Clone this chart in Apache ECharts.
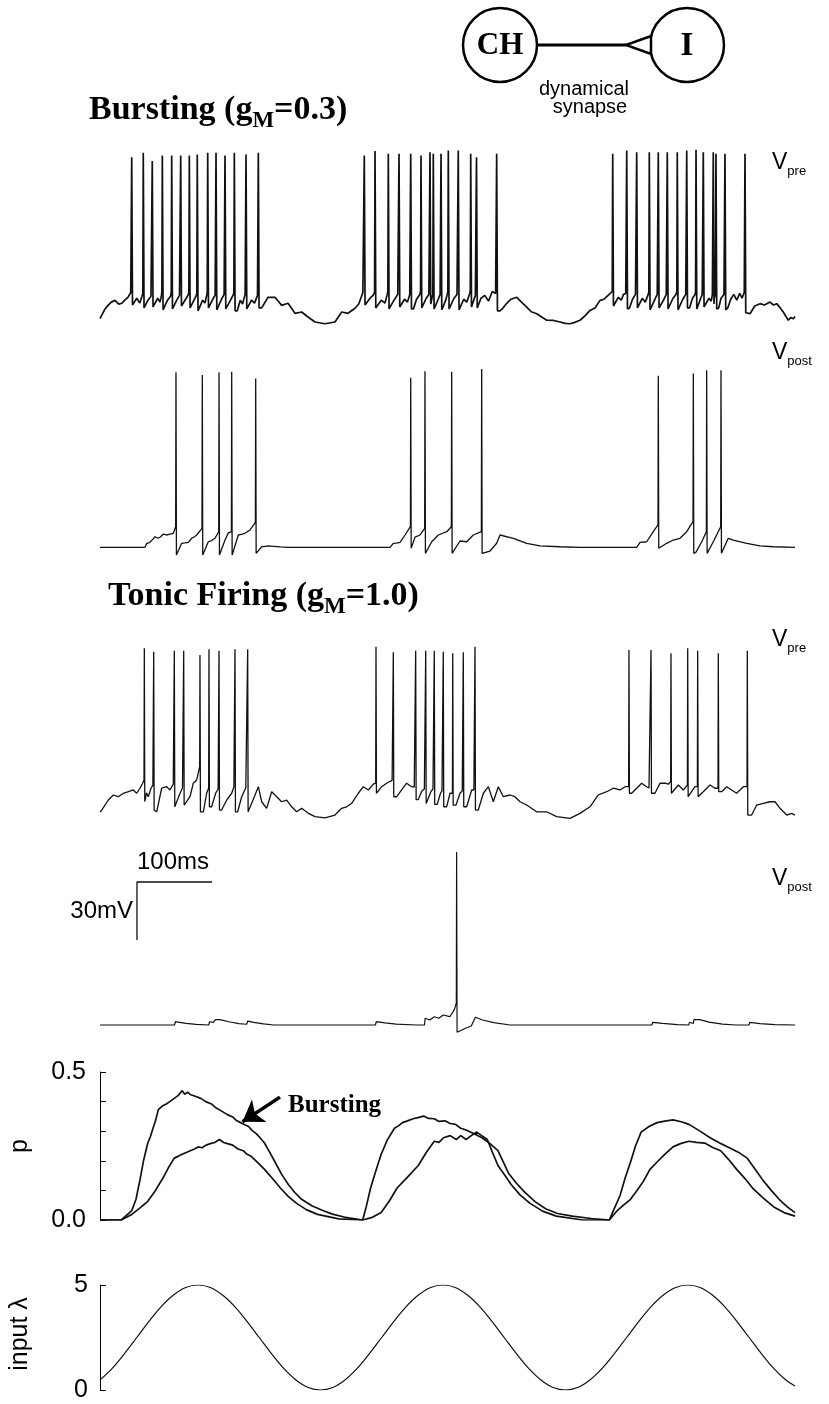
<!DOCTYPE html>
<html>
<head>
<meta charset="utf-8">
<script src="https://cdn.jsdelivr.net/npm/echarts@6/dist/echarts.min.js"></script>
<style>
  html, body { margin: 0; padding: 0; background: #fff; }
  #main { width: 829px; height: 1404px; }
</style>
</head>
<body>
<div id="main"></div>
<script>
// time in ms, voltage in mV (0.75 px/ms, 1.93 px/mV)
const T_MAX = 926.67;

// --- bursting, presynaptic: subthreshold trace [t, V] and spikes [t, Vbefore, Vpeak, Vafter]
const vpreBurstBase = [
  [0, -67.5], [2.3, -66.7], [6, -63], [10.7, -60.7], [15, -59], [20, -58.1], [25, -60], [29.3, -59.6], [33, -58], [37.3, -56.5], [41, -54],
  [45, -61.5], [49, -57], [53, -59.5], [56, -56],
  [61, -62], [64, -58], [68, -56],
  [73, -61], [77, -57], [80, -59], [82, -55.5],
  [86, -63], [90, -58], [94, -56],
  [99, -62], [103, -57.5], [106, -55.5],
  [111, -61.5], [115, -57], [118, -55],
  [122, -62.5], [126, -57.5], [128.5, -55.5],
  [133, -63], [137, -58], [140, -59.5], [142.5, -55],
  [147, -62.5], [151, -57], [153.5, -55.5],
  [158, -63], [162, -57.5], [165.5, -55],
  [170, -62.5], [174, -58], [178, -55],
  [183, -63.5], [187, -58], [190, -60], [193.5, -55],
  [198, -63], [202, -58], [206, -59.5], [210, -55.5],
  [215.6, -62], [224, -56.5], [233.3, -56.5], [242.3, -60.7], [250.7, -59.6], [260, -64.8], [268.9, -64.1], [277.3, -66.7],
  [286.7, -69.3], [300, -70.2], [313.3, -69.3], [322.3, -64.1], [330.7, -64.8], [340, -62.2], [345, -60], [350.5, -54],
  [356, -61], [360, -57], [364, -55.5],
  [370, -62.5], [375, -58], [380, -59.5], [383, -55],
  [388, -62.5], [392, -58], [397, -55],
  [402, -62], [406, -57.5], [410, -59], [413, -55],
  [418, -62.5], [422, -57.5], [426.5, -55],
  [431, -62], [435, -57], [438.5, -55],
  [442, -58],
  [447, -62], [451, -57.5], [453.5, -55],
  [458, -63], [461, -58], [463, -55],
  [468, -62.5], [472, -57], [476, -55],
  [481, -63], [485, -57.5], [489, -59], [493, -54.5],
  [497, -61], [500.5, -55.5],
  [505, -62], [508, -57], [513, -55.5], [518, -58.5], [523, -53.5], [527.5, -54.5],
  [533.3, -63.5], [537, -62.2], [542.3, -59.6], [548, -57.5], [555.6, -56.5], [562, -59], [568.9, -61.6], [575, -64],
  [582.3, -65], [590, -67], [595.6, -68.4], [605, -68.5], [613.3, -69.3], [620, -70], [626.7, -70.2], [633, -69.5],
  [640, -68.4], [647, -66], [653.3, -63.3], [660, -62], [666.7, -58.1], [672, -57.5], [676, -56], [680, -54.6],
  [687, -61.5], [691, -56.5], [695, -58], [698, -55], [701, -54.5],
  [706, -62], [710, -57.5], [714, -55],
  [719, -62.5], [723, -57], [727, -59], [731, -55],
  [736, -62], [740, -57.5], [743, -55],
  [748, -62.5], [752, -57.5], [755, -55],
  [760, -62], [764, -57], [768, -55],
  [773, -62.5], [777, -57.5], [781, -55],
  [786, -62], [790, -57], [793.5, -55],
  [798, -61.5], [801, -57], [803, -55],
  [808, -62], [812, -57], [815, -58.5], [816.5, -55],
  [819, -57], [820.5, -55],
  [825, -62], [828, -57], [832, -55],
  [837, -62], [841, -57.5], [845, -55], [849, -58], [853, -54.5], [856, -57], [859, -54],
  [866.7, -65], [873, -61], [880, -59.8], [886, -60.5], [893.3, -59], [898, -60.5], [902.3, -59.8], [907, -62],
  [911, -64.1], [917.7, -68.4], [921, -67], [924.4, -67.6], [926.7, -66.4]
];
const vpreBurstSpikes = [
  [42.3, -53.9, 16.1, -60.5], [57.7, -54.5, 18.4, -62], [69.7, -55, 14.1, -61.5], [83.1, -53.5, 17, -63],
  [95.6, -54, 17, -62.5], [107.6, -54.5, 17, -61], [119.1, -53, 17, -62], [129.7, -54, 17.5, -63.5],
  [143.6, -53.5, 18.4, -62], [154.7, -54.5, 18.4, -63], [166.7, -54, 17, -62.5], [179.1, -53.5, 18.4, -63.5],
  [194.7, -54, 17.5, -62.5], [211.1, -54.5, 18.4, -62],
  [352.4, -53.5, 17, -60.5], [366.7, -54, 19.3, -62], [384.4, -53.5, 17.9, -62.5], [398.7, -54.5, 17.9, -61.5],
  [414.3, -54, 17.9, -62.5], [428, -53.5, 17, -62], [440, -54, 18.7, -60], [444.4, -55, 17.9, -62.5],
  [454.7, -54, 17.9, -63], [464.4, -53.5, 19.6, -62.5], [477.7, -54, 19.6, -63], [494.3, -53, 17.9, -61.5],
  [502, -54.5, 16.1, -62], [528.9, -54, 17.9, -63.5],
  [683.6, -53.5, 17.9, -61], [702.3, -54, 19.6, -62.5], [715.6, -54.5, 18.7, -62], [732.4, -53.5, 18.7, -63],
  [744.4, -54, 18.7, -62], [756.4, -54.5, 18.7, -62.5], [769.7, -53.5, 18.7, -63], [782.3, -54, 19.6, -62],
  [794.7, -53.5, 20, -62.5], [804.4, -54.5, 18.7, -61.5], [817.7, -54, 18.7, -60], [821.3, -55, 17.9, -62.5],
  [833.3, -54, 17.9, -63], [860, -53.5, 17.9, -64.5]
];

// --- bursting, postsynaptic
const vpostBurstBase = [
  [0, -70], [60, -70], [62.3, -67.9], [66, -67.5], [70, -66], [73.3, -64.5], [77.7, -65.3], [81, -64.5], [84.4, -63.1],
  [88.9, -63.6], [93, -63.2], [97.7, -62.7],
  [104.4, -73.5], [108.9, -67.9], [113, -67.7], [117.7, -67.4], [122.3, -65.3], [126, -64.5], [128.9, -63.6],
  [139.1, -73.5], [144.4, -67.1], [149, -66.5], [153.3, -65.3],
  [161.3, -73.5], [166.7, -66.2], [171.1, -62.5],
  [178.3, -73.5], [184.4, -63.6], [190, -63.2], [193.3, -62.7], [200, -61], [205.7, -58],
  [210.3, -72.5], [215.6, -69.7], [224.4, -69.2], [240, -69.8], [251.1, -70], [386.7, -70],
  [391.1, -67.9], [395, -67.8], [400, -67.4], [406.7, -63.6],
  [420, -64.7], [426.7, -63.6],
  [435.6, -72.5], [442.3, -67.1], [451.1, -63.6], [462.3, -61.9],
  [471.1, -72.5], [480, -66.7], [488.9, -67.1], [497.7, -63.6],
  [511.1, -72.5], [520, -71.9], [528.9, -67.9], [533.3, -63.6], [551.1, -65.3], [568.9, -67.9], [586.7, -69.2],
  [613.3, -69.7], [640, -70], [715.6, -70],
  [720, -67.4], [728.9, -67.1], [737.7, -61.9],
  [755.6, -67.9], [764.4, -66.2], [773.3, -65.3], [782.3, -61.9],
  [794.7, -72.5], [802.3, -67.1],
  [811.6, -72.5], [817.7, -67.1],
  [831.1, -72.5], [837.7, -65.3], [844.4, -66.2], [862.3, -67.9], [880, -69.2], [897.7, -69.7], [926.7, -70]
];
const vpostBurstSpikes = [
  [101.3, -59.3, 20.7, -74], [136.4, -60.2, 19.3, -74], [158.7, -61.9, 20.7, -74], [175.6, -61.9, 21, -74],
  [207.6, -56.7, 17.5, -73.1],
  [414.3, -59.3, 17.9, -70.5], [433.3, -60.2, 21.3, -73.1], [468.9, -59.3, 21, -73.1], [508.9, -61.9, 22.4, -73.1],
  [744.4, -58.4, 18.9, -70.5], [791.1, -56.7, 20.1, -73.1], [808.9, -61.9, 21.8, -73.1], [828, -59.3, 21.8, -73.1]
];

// --- tonic firing, presynaptic
const vpreTonicBase = [
  [0, -67.5], [2.3, -66.4], [11.1, -61.2], [17.8, -58.6], [24.4, -59.5], [31.1, -57.7], [37.8, -56.9], [44.4, -56],
  [48.9, -57.7], [53.3, -55.1], [56.9, -52.5],
  [62, -57.5], [64.4, -59.5], [68, -55.1], [70.5, -53.5],
  [75.6, -67.3], [82.2, -55.1], [88.9, -54.3], [93.3, -56], [97.7, -53],
  [102.2, -64.7], [106.7, -57.7], [110, -55],
  [114.2, -63.8], [120, -59.5], [124.4, -52.5], [128.9, -50.8], [132, -45.5],
  [137.8, -67.3], [142.2, -57.7],
  [148.9, -64.7], [154.2, -57.7], [157.5, -55.5],
  [162.2, -66.4], [168.9, -61.2], [175.6, -57.7], [178.5, -54.5],
  [183.6, -67.3], [188.9, -59.5], [194.4, -54.8],
  [200, -67.3], [205.8, -59.5], [211.1, -54.3], [215.6, -62.1], [222.2, -65.5], [228.9, -56.9], [235.6, -59.5],
  [242.2, -62.1], [248.9, -61.2], [255.6, -64.7], [262.2, -67.3], [268.9, -65.5], [277.8, -68.1], [286.7, -69.8],
  [300, -70.4], [313.3, -69], [322.2, -65.5], [328.9, -64.7], [335.6, -62.9], [344.4, -57.7], [351.1, -54.3],
  [357.8, -56], [364.4, -53],
  [371.1, -57.7], [375.6, -54.3], [382.2, -52.5], [386.7, -51.5], [389.5, -51],
  [395.6, -59.5], [402.2, -56], [408.9, -52.5], [415.6, -54.3], [419, -54.5],
  [424.4, -61], [429, -56.5], [432.5, -55.5],
  [437.5, -62.5], [441, -57], [444, -55.5],
  [449.5, -63.5], [454, -57.7], [456, -56.5],
  [462.2, -64.7], [466.7, -57.7], [469, -58],
  [474.7, -63.8], [480, -57.7], [483, -56.5],
  [488.9, -64.7], [495.6, -56], [498.5, -56],
  [504.4, -66.4], [511.1, -57.7], [517.8, -54.3], [524.4, -62.1], [531.1, -54.3], [537.8, -59.5], [546.7, -58.6],
  [553.3, -59.5], [560, -62.1], [568.9, -63.8], [582.2, -67.3], [595.6, -67.3], [608.9, -69.8], [626.7, -70.7],
  [640, -68.1], [653.3, -64.7], [664.4, -58.6], [675.6, -56.9], [684.4, -55.1], [693.3, -56], [700, -54.3],
  [708.9, -57.7], [715.6, -55.1], [722.2, -52.5], [728.9, -54.3], [732, -55],
  [740, -57.7], [746.7, -52.5], [753.3, -52.5], [757.8, -53],
  [764.4, -57.7], [771.1, -53.4], [777.8, -56], [781, -54.5],
  [786.7, -59.5], [793.3, -54.3],
  [800, -59.5], [806.7, -56], [813.3, -53.4], [820, -55.1],
  [828.9, -56.9], [835.6, -54.3], [842.2, -56], [848.9, -57.7], [857.8, -54.3],
  [868.9, -69], [875.6, -63.8], [884.4, -62.9], [893.3, -62.1], [900, -62.1], [906.7, -65.5], [915.6, -69],
  [922.2, -68.1], [926.7, -69]
];
const vpreTonicSpikes = [
  [59.1, -50.8, 17.4, -62], [71.6, -53, 15.6, -66.5], [99.1, -52.5, 16.1, -64.7], [111.6, -54.3, 16.1, -63.8],
  [133.3, -43.9, 13.9, -67.3], [145.3, -55, 16.9, -64.7], [158.7, -55, 16.1, -66.4], [180, -54, 16.9, -67.3],
  [196.9, -54.3, 16.9, -67.3],
  [368, -52.5, 18.2, -57.7], [391.1, -50.8, 15.3, -59.5], [420.9, -54.3, 16.1, -61], [434.3, -55, 16.1, -63],
  [445.7, -55, 16.1, -63.5], [457.7, -56, 15.6, -64.7], [470.3, -57.7, 14.8, -63.8], [484.4, -56, 15.3, -64.7],
  [500, -56, 18.2, -66.4],
  [705.3, -54.3, 16.5, -57.7], [734.7, -54.3, 16.5, -57.7], [761.3, -51.7, 14.8, -57.7], [783.6, -53.4, 17.4, -59.5],
  [796.9, -54.3, 16.1, -59.5], [824.4, -55.1, 14.8, -56.9], [863.1, -54.3, 16.1, -69]
];

// --- tonic firing, postsynaptic
const vpostTonicBase = [
  [0, -70], [99.3, -70], [100.5, -68.3], [106, -68.6], [115, -69.2], [128, -69.7], [145, -70], [146, -68.3],
  [151.1, -68.6], [153, -68.8], [154, -67.2], [160, -67.2], [171.9, -68.3], [185, -69.3], [195.6, -69.6],
  [196.9, -68], [205, -68.6], [218, -69.4], [231.5, -70], [367.2, -70], [368.4, -68.3], [380, -68.9], [395, -69.5],
  [421.9, -70], [432.7, -70], [433.5, -66.5], [439.7, -67.4], [445.7, -65.7], [451.7, -66.5], [457.6, -64.8],
  [466.5, -65.7], [472.5, -62], [478.4, -73.8], [487.3, -71.7], [495, -70.5], [500.5, -66], [510, -67.4],
  [525, -68.8], [546.9, -70], [735.7, -70], [737, -68.6], [750, -69.2], [770, -69.8], [785, -70], [786, -68.6],
  [791, -69.2], [792, -67.2], [799.9, -67.2], [812, -68.5], [830, -69.5], [848, -70], [865.3, -70], [866.5, -68.6],
  [880, -69.3], [900, -69.8], [926.7, -70]
];
const vpostTonicSpikes = [[475.5, -58.7, 19.6, -73.8]];

// scale bar: 100 ms x 30 mV
const scaleBarT = [49.3, 149.3];
const scaleBarV = [4.1, -25.9];

// release probability p [t, p]
const pBurst = [
  [0, 0], [28.3, 0], [42.4, 0.032], [48, 0.07], [53.1, 0.133], [58, 0.2], [63.7, 0.26], [67, 0.28], [70.7, 0.31],
  [74, 0.335], [77.8, 0.373], [83, 0.385], [88.4, 0.392], [93, 0.4], [99, 0.411], [104, 0.42], [109.6, 0.437],
  [113, 0.425], [117, 0.432], [120.3, 0.424], [127, 0.418], [134.4, 0.411], [141, 0.4], [148.6, 0.392], [155, 0.378],
  [162.7, 0.367], [170, 0.356], [176.9, 0.348], [182, 0.336], [187.5, 0.329], [193, 0.322], [198.1, 0.316],
  [203, 0.302], [208.7, 0.291], [214, 0.276], [219.3, 0.26], [226, 0.23], [233.4, 0.196], [242, 0.155],
  [251.1, 0.12], [260, 0.092], [268.8, 0.07], [283, 0.047], [297.1, 0.032], [310, 0.02], [325.4, 0.01], [350.2, 0],
  [355, 0.045], [360.8, 0.108], [367, 0.16], [374.9, 0.222], [383, 0.27], [392.6, 0.31], [398, 0.318],
  [403.2, 0.329], [410, 0.335], [417.4, 0.342], [424, 0.346], [431.5, 0.351], [438, 0.343], [445.7, 0.342],
  [452, 0.333], [459.8, 0.335], [467, 0.326], [474, 0.323], [481, 0.31], [488.1, 0.304], [498, 0.292],
  [509.3, 0.278], [520, 0.258], [530.6, 0.234], [538, 0.195], [544.7, 0.158], [555, 0.125], [565.9, 0.095],
  [580, 0.062], [594.2, 0.038], [610, 0.022], [629.6, 0.013], [655, 0.005], [679.1, 0],
  [686, 0.04], [693.3, 0.082], [700, 0.14], [707.4, 0.196], [714, 0.25], [721.5, 0.297], [732, 0.316],
  [742.8, 0.329], [753, 0.334], [764, 0.338], [775, 0.332], [785.2, 0.323], [799, 0.302], [813.5, 0.278],
  [828, 0.258], [841.8, 0.241], [853, 0.226], [863, 0.209], [874, 0.17], [884.3, 0.133], [895, 0.1],
  [905.5, 0.07], [916, 0.045], [926.7, 0.025]
];
const pTonic = [
  [0, 0], [28.3, 0], [42.4, 0.019], [53, 0.04], [63.7, 0.063], [74, 0.1], [84.9, 0.146], [92, 0.18], [99, 0.209],
  [104, 0.215], [109.6, 0.222], [115, 0.228], [120.3, 0.234], [126, 0.24], [130.9, 0.247], [136, 0.244],
  [141.5, 0.253], [147, 0.258], [153, 0.262], [159.2, 0.272], [165, 0.262], [170, 0.258], [176.9, 0.253],
  [184, 0.24], [191, 0.234], [196, 0.222], [201.6, 0.215], [210, 0.195], [219.3, 0.171], [230, 0.14],
  [240.5, 0.108], [251, 0.08], [261.7, 0.057], [275, 0.035], [290, 0.019], [318.3, 0.004], [350.2, 0],
  [362, 0.008], [374.9, 0.025], [386, 0.065], [396.1, 0.108], [410, 0.145], [424.4, 0.184], [435, 0.228],
  [445.7, 0.266], [452, 0.262], [458, 0.278], [466.9, 0.285], [475, 0.272], [481, 0.285], [488.1, 0.272],
  [495, 0.285], [502.3, 0.297], [509, 0.285], [516.4, 0.272], [523, 0.23], [530.6, 0.184], [540, 0.15],
  [548.2, 0.12], [560, 0.085], [573, 0.057], [590, 0.03], [608.4, 0.013], [643.7, 0], [679.1, 0],
  [689.7, 0.032], [698, 0.05], [707.4, 0.07], [716, 0.1], [725.1, 0.133], [733, 0.17], [742.8, 0.196],
  [753, 0.222], [764, 0.247], [774, 0.258], [785.2, 0.266], [795, 0.262], [806.4, 0.26], [817, 0.245],
  [827.6, 0.234], [838, 0.205], [848.9, 0.171], [860, 0.14], [870.1, 0.108], [884, 0.075], [898.4, 0.044],
  [912, 0.025], [926.7, 0.013]
];

// input rate lambda, sampled every lambdaDt ms
const lambdaDt = 16.33;
const lambdaValues = [
  0.48, 1.03, 1.73, 2.50, 3.27, 3.97, 4.52, 4.88, 5.00, 4.88, 4.52, 3.97, 3.27, 2.50, 1.73, 1.03, 0.48, 0.12, 0.00, 0.12,
  0.48, 1.03, 1.73, 2.50, 3.27, 3.97, 4.52, 4.88, 5.00, 4.88, 4.52, 3.97, 3.27, 2.50, 1.73, 1.03, 0.48, 0.12, 0.00, 0.12,
  0.48, 1.03, 1.73, 2.50, 3.27, 3.97, 4.52, 4.88, 5.00, 4.88, 4.52, 3.97, 3.27, 2.50, 1.73, 1.03, 0.48
];
const lambdaEnd = [926.7, 0.19];

const pTicks = [0, 0.5];
const lambdaTicks = [0, 5];

function buildTrace(base, spikes, pre, post) {
  const pts = base.map(p => [p[0], p[1]]);
  spikes.forEach(s => {
    pts.push([s[0] - pre, s[1]], [s[0], s[2]], [s[0] + post, s[3]]);
  });
  pts.sort((a, b) => a[0] - b[0]);
  return pts;
}

const lambdaData = lambdaValues.map((v, i) => [i * lambdaDt, v]);
lambdaData.push(lambdaEnd);

const SANS = '"Liberation Sans", Arial, sans-serif';
const SERIF = '"Liberation Serif", "Times New Roman", serif';

const ctx = document.createElement('canvas').getContext('2d');
function tw(text, font) {
  ctx.font = font;
  return ctx.measureText(text).width;
}
// text pieces on a common baseline (for subscripts)
function row(x, baseline, pieces) {
  let cx = x;
  const out = [];
  pieces.forEach(p => {
    const font = (p.bold ? 'bold ' : '') + p.size + 'px ' + p.family;
    out.push({
      type: 'text', x: cx, y: baseline + (p.dy || 0) - 0.34 * p.size,
      style: { text: p.text, font: font, fill: '#000', align: 'left', verticalAlign: 'middle' }
    });
    cx += tw(p.text, font);
  });
  return out;
}
function vLabel(baseline, sub) {
  return row(772, baseline, [
    { text: 'V', size: 23, family: SANS },
    { text: sub, size: 13, family: SANS, dy: 6 }
  ]);
}

const chart = echarts.init(document.getElementById('main'), null, { renderer: 'canvas' });

const grids = [
  { left: 100, width: 695, top: 140, height: 193 },
  { left: 100, width: 695, top: 364, height: 202.65 },
  { left: 100, width: 695, top: 633.65, height: 193 },
  { left: 100, width: 695, top: 841.65, height: 202.65 },
  { left: 100, width: 695, top: 1072, height: 148 },
  { left: 100, width: 695, top: 1285, height: 105 }
];
const yRanges = [[-75, 25], [-80, 25], [-75, 25], [-80, 25]];

const xAxes = grids.map((g, i) => ({
  type: 'value', gridIndex: i, min: 0, max: T_MAX, show: false
}));

const axisText = { color: '#000', fontFamily: SANS, fontSize: 25 };
const yAxes = yRanges.map((r, i) => ({
  type: 'value', gridIndex: i, min: r[0], max: r[1], show: false
}));
yAxes.push({
  type: 'value', gridIndex: 4, min: 0, max: 0.5, interval: 0.1,
  axisLine: { show: true, lineStyle: { color: '#000', width: 1 } },
  axisTick: { show: true, inside: true, length: 6, lineStyle: { color: '#000' } },
  splitLine: { show: false },
  axisLabel: Object.assign({
    margin: 14,
    formatter: v => pTicks.some(t => Math.abs(t - v) < 1e-6) ? v.toFixed(1) : ''
  }, axisText)
});
yAxes.push({
  type: 'value', gridIndex: 5, min: 0, max: 5, interval: 5,
  axisLine: { show: true, lineStyle: { color: '#000', width: 1 } },
  axisTick: { show: true, inside: true, length: 6, lineStyle: { color: '#000' } },
  splitLine: { show: false },
  axisLabel: Object.assign({
    margin: 12,
    formatter: v => lambdaTicks.indexOf(v) >= 0 ? String(v) : ''
  }, axisText)
});

function traceSeries(name, idx, data, width) {
  return {
    name: name, type: 'line', xAxisIndex: idx, yAxisIndex: idx, data: data,
    showSymbol: false, symbol: 'none', smooth: false, silent: true,
    lineStyle: { color: '#111', width: width || 1.2 }
  };
}

const series = [
  traceSeries('Vpre bursting', 0, buildTrace(vpreBurstBase, vpreBurstSpikes, 0.6, 1.0), 1.7),
  traceSeries('Vpost bursting', 1, buildTrace(vpostBurstBase, vpostBurstSpikes, 0.4, 0.6), 1.3),
  traceSeries('Vpre tonic', 2, buildTrace(vpreTonicBase, vpreTonicSpikes, 0.4, 0.6), 1.3),
  traceSeries('Vpost tonic', 3, buildTrace(vpostTonicBase, vpostTonicSpikes, 0.4, 0.6), 1.2),
  traceSeries('scale bar', 3, [[scaleBarT[1], scaleBarV[0]], [scaleBarT[0], scaleBarV[0]], [scaleBarT[0], scaleBarV[1]]], 1.3),
  Object.assign(traceSeries('p bursting', 4, pBurst, 1.7), {
    markLine: {
      silent: true, symbol: ['none', 'arrow'], symbolSize: 20,
      lineStyle: { color: '#000', width: 3.5, type: 'solid' },
      label: { show: false },
      data: [[{ coord: [240, 0.415] }, { coord: [190, 0.332] }]]
    }
  }),
  traceSeries('p tonic', 4, pTonic, 1.7),
  Object.assign(traceSeries('input', 5, lambdaData, 1.2), { smooth: 0.4 })
];

const graphic = [
  // schematic
  { type: 'circle', shape: { cx: 500, cy: 45, r: 37 }, style: { fill: '#fff', stroke: '#000', lineWidth: 2.5 } },
  { type: 'circle', shape: { cx: 687, cy: 45, r: 37 }, style: { fill: '#fff', stroke: '#000', lineWidth: 2.5 } },
  { type: 'line', shape: { x1: 537, y1: 45, x2: 626, y2: 45 }, style: { stroke: '#000', lineWidth: 3 } },
  { type: 'polygon', shape: { points: [[626, 45], [651, 36], [651, 54]] }, style: { fill: '#fff', stroke: '#000', lineWidth: 2.5 } },
  { type: 'text', x: 500, y: 46, style: { text: 'CH', font: 'bold 31px ' + SERIF, fill: '#000', align: 'center', verticalAlign: 'middle' } },
  { type: 'text', x: 687, y: 46, style: { text: 'I', font: 'bold 33px ' + SERIF, fill: '#000', align: 'center', verticalAlign: 'middle' } },
  { type: 'text', x: 584, y: 89, style: { text: 'dynamical', font: '20px ' + SANS, fill: '#000', align: 'center', verticalAlign: 'middle' } },
  { type: 'text', x: 590, y: 107, style: { text: 'synapse', font: '20px ' + SANS, fill: '#000', align: 'center', verticalAlign: 'middle' } },
  // scale bar labels
  { type: 'text', x: 137, y: 874, style: { text: '100ms', font: '24px ' + SANS, fill: '#000', align: 'left', verticalAlign: 'bottom' } },
  { type: 'text', x: 133, y: 911, style: { text: '30mV', font: '24px ' + SANS, fill: '#000', align: 'right', verticalAlign: 'middle' } },
  // p panel
  { type: 'text', x: 288, y: 1106, style: { text: 'Bursting', font: 'bold 25px ' + SERIF, fill: '#000', align: 'left', verticalAlign: 'middle' } },
  { type: 'text', x: 20, y: 1146, rotation: Math.PI / 2, style: { text: 'p', font: '25px ' + SANS, fill: '#000', align: 'center', verticalAlign: 'middle' } },
  { type: 'text', x: 20, y: 1334, rotation: Math.PI / 2, style: { text: 'input λ', font: '25px ' + SANS, fill: '#000', align: 'center', verticalAlign: 'middle' } }
].concat(
  row(89, 122, [
    { text: 'Bursting (g', size: 34, family: SERIF, bold: true },
    { text: 'M', size: 23, family: SERIF, bold: true, dy: 7 },
    { text: '=0.3)', size: 34, family: SERIF, bold: true }
  ]),
  row(108, 608, [
    { text: 'Tonic Firing (g', size: 34, family: SERIF, bold: true },
    { text: 'M', size: 23, family: SERIF, bold: true, dy: 7 },
    { text: '=1.0)', size: 34, family: SERIF, bold: true }
  ]),
  vLabel(170, 'pre'),
  vLabel(360, 'post'),
  vLabel(647, 'pre'),
  vLabel(886, 'post')
);

chart.setOption({
  backgroundColor: '#fff',
  animation: false,
  grid: grids,
  xAxis: xAxes,
  yAxis: yAxes,
  series: series,
  graphic: graphic
});
</script>
</body>
</html>
